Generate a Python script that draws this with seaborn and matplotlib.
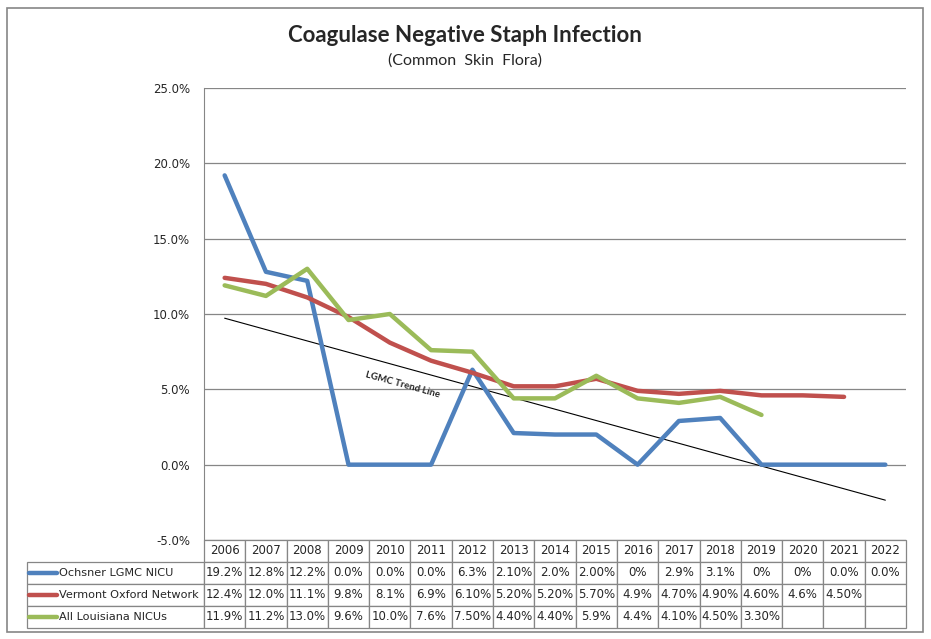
import matplotlib.pyplot as plt
import numpy as np
import pandas as pd
import seaborn as sns
from matplotlib.lines import Line2D
from matplotlib.patches import Rectangle

# chart data
years = [str(y) for y in range(2006, 2023)]
series_names = ["Ochsner LGMC NICU", "Vermont Oxford Network", "All Louisiana NICUs"]
ochsner = [19.2, 12.8, 12.2, 0.0, 0.0, 0.0, 6.3, 2.1, 2.0, 2.0, 0.0, 2.9, 3.1, 0.0, 0.0, 0.0, 0.0]
vermont = [12.4, 12.0, 11.1, 9.8, 8.1, 6.9, 6.1, 5.2, 5.2, 5.7, 4.9, 4.7, 4.9, 4.6, 4.6, 4.5, None]
louisiana = [11.9, 11.2, 13.0, 9.6, 10.0, 7.6, 7.5, 4.4, 4.4, 5.9, 4.4, 4.1, 4.5, 3.3, None, None, None]
# table strings as printed in the original
ochsner_txt = ["19.2%", "12.8%", "12.2%", "0.0%", "0.0%", "0.0%", "6.3%", "2.10%", "2.0%", "2.00%",
               "0%", "2.9%", "3.1%", "0%", "0%", "0.0%", "0.0%"]
vermont_txt = ["12.4%", "12.0%", "11.1%", "9.8%", "8.1%", "6.9%", "6.10%", "5.20%", "5.20%", "5.70%",
               "4.9%", "4.70%", "4.90%", "4.60%", "4.6%", "4.50%", ""]
louisiana_txt = ["11.9%", "11.2%", "13.0%", "9.6%", "10.0%", "7.6%", "7.50%", "4.40%", "4.40%", "5.9%",
                 "4.4%", "4.10%", "4.50%", "3.30%", "", "", ""]
colors = ["#4F81BD", "#C0504D", "#9BBB59"]

df = pd.DataFrame({"idx": range(len(years)), "year": years,
                   series_names[0]: ochsner, series_names[1]: vermont, series_names[2]: louisiana})
long = df.melt(id_vars=["idx", "year"], var_name="series", value_name="rate").dropna()

sns.set_style("white")
plt.rcParams["font.family"] = ["DejaVu Sans"]

W, H = 931, 639
fig = plt.figure(figsize=(W / 100, H / 100), dpi=100)
ax = fig.add_axes([204 / W, 1 - 540 / H, 702 / W, 452 / H])

sns.lineplot(data=long, x="idx", y="rate", hue="series", hue_order=series_names,
             palette=colors, linewidth=3.2, legend=False, ax=ax, solid_capstyle="round")

# linear trend of the Ochsner series (Excel-style trendline)
x = np.arange(len(years))
slope, icpt = np.polyfit(x, ochsner, 1)
ax.plot(x, slope * x + icpt, color="black", linewidth=0.8, zorder=1)
ax.text(4.3, slope * 4.3 + icpt - 1.2, "LGMC Trend Line", fontsize=7, fontweight="bold",
        family=["Lato", "DejaVu Sans"], rotation=-15.5, ha="center", va="center",
        rotation_mode="anchor")

ax.set_xlim(-0.5, len(years) - 0.5)
ax.set_ylim(-5, 25)
ax.set_yticks(np.arange(-5, 26, 5))
ax.set_yticklabels([f"{v:.1f}%" for v in np.arange(-5, 26, 5)], fontsize=8.5)
ax.tick_params(axis="y", length=0, pad=10)
ax.set_xticks([])
ax.set_xlabel("")
ax.set_ylabel("")
ax.yaxis.grid(True, color="#868686", linewidth=0.9)
for s in ["top", "right", "bottom"]:
    ax.spines[s].set_visible(False)
ax.spines["left"].set_color("#868686")

# data table under the plot (row labels drawn separately with legend keys)
cell_text = [[""] + t for t in [ochsner_txt, vermont_txt, louisiana_txt]]
label_w = 177 / 879
col_w = (1 - label_w) / len(years)
tbl = ax.table(cellText=cell_text, colLabels=[""] + years,
               colWidths=[label_w] + [col_w] * len(years),
               cellLoc="center", bbox=[-177 / 702, -88 / 452, 879 / 702, 88 / 452])
tbl.auto_set_font_size(False)
tbl.set_fontsize(8.5)
for (r, c), cell in tbl.get_celld().items():
    cell.set_edgecolor("#868686")
    cell.set_linewidth(0.9)
    if r == 0 and c == 0:
        cell.visible_edges = ""

# legend keys + series names inside the row label cells
for i, (name, col) in enumerate(zip(series_names, colors)):
    yc = 1 - (573 + 22 * i) / H
    fig.add_artist(Line2D([29 / W, 57 / W], [yc, yc], color=col, linewidth=3.2,
                          solid_capstyle="round", transform=fig.transFigure))
    fig.text(59 / W, yc, name, ha="left", va="center", fontsize=8.1)

fig.suptitle("Coagulase Negative Staph Infection", x=465 / W, y=1 - 25 / H,
             fontsize=16, fontweight="bold", family=["Lato", "DejaVu Sans"])
fig.text(465 / W, 1 - 61 / H, "(Common  Skin  Flora)", ha="center", va="center",
         fontsize=11.5, family=["Lato", "DejaVu Sans"])

fig.add_artist(Rectangle((7 / W, 1 - 632 / H), 916 / W, 624 / H, fill=False,
                         edgecolor="#868686", linewidth=1.2, transform=fig.transFigure))

fig.savefig("out.png", dpi=100)
